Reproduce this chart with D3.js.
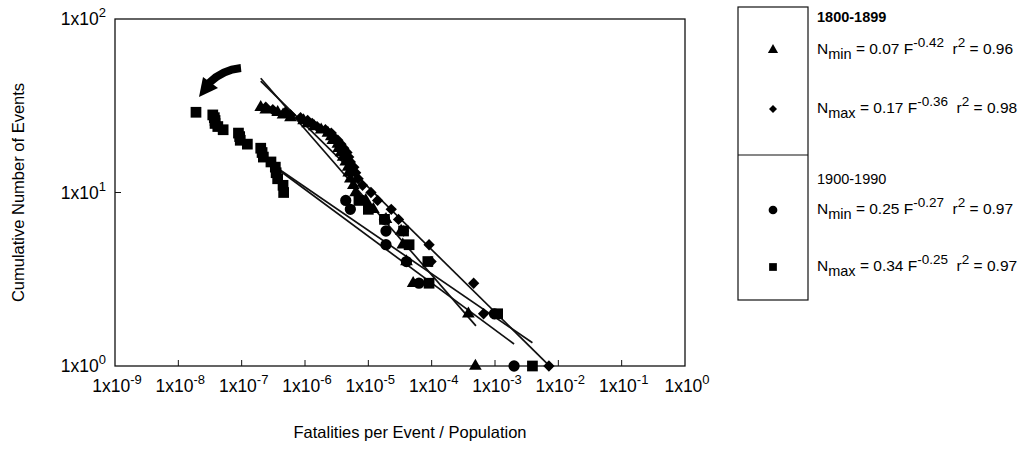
<!DOCTYPE html>
<html>
<head>
<meta charset="utf-8">
<script src="https://cdn.jsdelivr.net/npm/d3@7"></script>
<style>
  body { margin: 0; background: #fff; }
  svg { font-family: "Liberation Sans", Arial, sans-serif; }
</style>
</head>
<body>
<svg id="chart" width="1033" height="449"></svg>
<script>
// tick values
var xTicks = [1e-9, 1e-8, 1e-7, 1e-6, 1e-5, 1e-4, 1e-3, 1e-2, 1e-1, 1e0];
var yTicks = [1, 10, 100];

// 1800-1899, N min (triangles): F per rank N
var triF = [4.9e-4, 3.8e-4, 5.1e-5, 4.0e-5, 3.5e-5, 3.3e-5, 1.9e-5, 1.2e-5, 9.1e-6, 6.3e-6,
            5.8e-6, 5.2e-6, 4.9e-6, 4.8e-6, 4.4e-6, 4.0e-6, 3.7e-6, 3.4e-6, 3.3e-6, 2.75e-6,
            2.6e-6, 2.3e-6, 1.8e-6, 1.4e-6, 1.1e-6, 9.5e-7, 5.9e-7, 4.5e-7, 3.7e-7, 2.4e-7, 2.0e-7];
var triN = d3.range(1, 32);

// 1800-1899, N max (diamonds)
var diaF = [7.1e-3, 6.6e-4, 4.6e-4, 9.8e-5, 9.1e-5, 3.6e-5, 3.0e-5, 2.3e-5, 1.4e-5, 1.1e-5,
            8.1e-6, 6.9e-6, 6.3e-6, 5.9e-6, 5.2e-6, 4.9e-6, 4.6e-6, 4.1e-6, 3.7e-6, 3.3e-6,
            2.8e-6, 2.6e-6, 2.1e-6, 1.55e-6, 1.3e-6, 1.1e-6, 8.5e-7, 5.9e-7, 4.9e-7, 3.1e-7, 2.4e-7];
var diaN = d3.range(1, 32);

// 1900-1990, N min (circles)
var cirF = [2.0e-3, 9.8e-4, 6.3e-5, 4.0e-5, 1.9e-5, 1.9e-5, 1.8e-5, 5.2e-6, 4.4e-6];
var cirN = d3.range(1, 10);

// 1900-1990, N max (squares)
var sqF = [3.9e-3, 1.1e-3, 9.1e-5, 8.7e-5, 4.4e-5, 3.6e-5, 1.8e-5, 1.0e-5, 7.1e-6, 4.6e-7,
           4.5e-7, 3.7e-7, 3.5e-7, 3.4e-7, 2.9e-7, 2.2e-7, 2.1e-7, 2.0e-7, 1.23e-7, 9.5e-8,
           9.3e-8, 8.9e-8, 5.1e-8, 4.2e-8, 3.8e-8, 3.8e-8, 3.7e-8, 3.5e-8, 1.9e-8];
var sqN = d3.range(1, 30);

// power-law fits N = a F^b, drawn between F ranges
var fitA = [0.07, 0.17, 0.25, 0.34];
var fitB = [-0.42, -0.36, -0.27, -0.25];
var fitFrom = [2.0e-7, 2.0e-7, 3.5e-7, 3.5e-7];
var fitTo = [5.0e-4, 7.1e-3, 2.0e-3, 3.9e-3];

var groupTitles = ["1800-1899", "1900-1990"];
var fitLabels = ["min", "max", "min", "max"];
var fitR2 = ["0.96", "0.98", "0.97", "0.97"];

var svg = d3.select("#chart");
var plotL = 115, plotR = 685, plotT = 19, plotB = 366;

var x = d3.scaleLog().domain([1e-9, 1]).range([plotL, plotR]);
var y = d3.scaleLog().domain([1, 100]).range([plotB, plotT]);

// frame
svg.append("rect")
    .attr("x", plotL).attr("y", plotT)
    .attr("width", plotR - plotL).attr("height", plotB - plotT)
    .attr("fill", "none").attr("stroke", "#111").attr("stroke-width", 1.3);

// inward ticks
svg.selectAll(".xtick").data(xTicks.slice(1, -1)).enter().append("line")
    .attr("x1", function(d) { return x(d); }).attr("x2", function(d) { return x(d); })
    .attr("y1", plotB).attr("y2", plotB - 6)
    .attr("stroke", "#111").attr("stroke-width", 1);

svg.selectAll(".ytick").data(yTicks.slice(1, -1)).enter().append("line")
    .attr("x1", plotL).attr("x2", plotL + 6)
    .attr("y1", function(d) { return y(d); }).attr("y2", function(d) { return y(d); })
    .attr("stroke", "#111").attr("stroke-width", 1);

function powLabel(sel, d) {
    var e = Math.round(Math.log10(d));
    sel.append("tspan").text("1x10");
    sel.append("tspan").attr("dy", -8).attr("font-size", 13).text(e);
}

svg.selectAll(".xlab").data(xTicks).enter().append("text")
    .attr("x", function(d) { return x(d) + 2; })
    .attr("y", 392)
    .attr("text-anchor", "middle")
    .attr("font-size", 17.5)
    .each(function(d) { powLabel(d3.select(this), d); });

svg.selectAll(".ylab").data(yTicks).enter().append("text")
    .attr("x", 106)
    .attr("y", function(d) { return y(d) + 6; })
    .attr("text-anchor", "end")
    .attr("font-size", 17.5)
    .each(function(d) { powLabel(d3.select(this), d); });

// axis titles
svg.append("text")
    .attr("x", (plotL + plotR) / 2 + 10).attr("y", 438)
    .attr("text-anchor", "middle").attr("font-size", 16.5)
    .text("Fatalities per Event / Population");

svg.append("text")
    .attr("transform", "translate(24," + ((plotT + plotB) / 2) + ") rotate(-90)")
    .attr("text-anchor", "middle").attr("font-size", 16.5)
    .text("Cumulative Number of Events");

// fit lines
var line = d3.line()
    .x(function(d) { return x(d[0]); })
    .y(function(d) { return y(d[1]); });

fitA.forEach(function(a, i) {
    var pts = [fitFrom[i], fitTo[i]].map(function(f) { return [f, a * Math.pow(f, fitB[i])]; });
    svg.append("path")
        .attr("d", line(pts))
        .attr("fill", "none").attr("stroke", "#111").attr("stroke-width", 1.7);
});

// markers
var shapes = {
    tri: d3.symbol().type(d3.symbolTriangle).size(70),
    dia: d3.symbol().type(d3.symbolSquare).size(64),
    cir: d3.symbol().type(d3.symbolCircle).size(100),
    sq: d3.symbol().type(d3.symbolSquare).size(115)
};

function drawSeries(F, N, key, rot) {
    svg.append("g").selectAll("path")
        .data(F.map(function(f, i) { return [f, N[i]]; }))
        .enter().append("path")
        .attr("d", shapes[key])
        .attr("transform", function(d) {
            return "translate(" + x(d[0]) + "," + y(d[1]) + ")" + (rot ? " rotate(45)" : "");
        })
        .attr("fill", "#000");
}

drawSeries(cirF, cirN, "cir", false);
drawSeries(triF, triN, "tri", false);
drawSeries(diaF, diaN, "dia", true);
drawSeries(sqF, sqN, "sq", false);

// curved arrow annotation
svg.append("path")
    .attr("d", "M241,68 Q222,70 209,83")
    .attr("fill", "none").attr("stroke", "#000").attr("stroke-width", 8);
svg.append("path")
    .attr("d", "M199,97 L203,77 L218,88 Z")
    .attr("fill", "#000");

// legend
var lg = svg.append("g");
var boxL = 738, boxR = 808, boxT = 7, boxM = 155, boxB = 300;
lg.append("rect").attr("x", boxL).attr("y", boxT).attr("width", boxR - boxL).attr("height", boxB - boxT)
    .attr("fill", "none").attr("stroke", "#111").attr("stroke-width", 1.2);
lg.append("line").attr("x1", boxL).attr("x2", boxR).attr("y1", boxM).attr("y2", boxM)
    .attr("stroke", "#111").attr("stroke-width", 1.2);

var legKeys = ["tri", "dia", "cir", "sq"];
var legY = [50, 109, 210, 267];
var legShapes = {
    tri: d3.symbol().type(d3.symbolTriangle).size(45),
    dia: d3.symbol().type(d3.symbolSquare).size(32),
    cir: d3.symbol().type(d3.symbolCircle).size(60),
    sq: d3.symbol().type(d3.symbolSquare).size(60)
};
legKeys.forEach(function(k, i) {
    lg.append("path").attr("d", legShapes[k])
        .attr("transform", "translate(773," + legY[i] + ")" + (k === "dia" ? " rotate(45)" : ""))
        .attr("fill", "#000");

    var t = lg.append("text").attr("x", 817).attr("y", legY[i] + 4).attr("font-size", 15.5);
    t.append("tspan").text("N");
    t.append("tspan").attr("dy", 5).attr("font-size", 14.5).text(fitLabels[i]);
    t.append("tspan").attr("dy", -5).text(" = " + fitA[i].toFixed(2) + " F");
    t.append("tspan").attr("dy", -7).attr("font-size", 13.5).text(fitB[i].toFixed(2));
    t.append("tspan").attr("dy", 7).text("\u00a0 r");
    t.append("tspan").attr("dy", -7).attr("font-size", 13.5).text("2");
    t.append("tspan").attr("dy", 7).text(" = " + fitR2[i]);
});

lg.selectAll(".gt").data(groupTitles).enter().append("text")
    .attr("x", 817)
    .attr("y", function(d, i) { return i === 0 ? 22 : 184; })
    .attr("font-size", 14.5)
    .attr("font-weight", function(d, i) { return i === 0 ? "bold" : "normal"; })
    .text(function(d) { return d; });
</script>
</body>
</html>
